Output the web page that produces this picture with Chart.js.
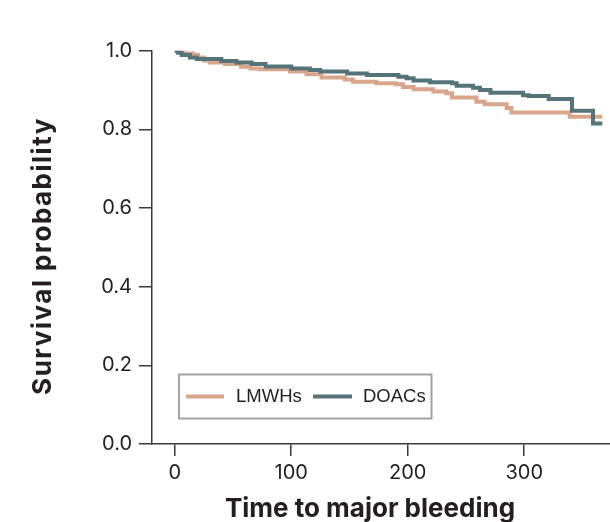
<!DOCTYPE html>
<html>
<head>
<meta charset="utf-8">
<script src="https://cdn.jsdelivr.net/npm/chart.js@4.4.1/dist/chart.umd.min.js"></script>
<style>
  html, body { margin: 0; padding: 0; background: #fff; }
  #wrap { width: 610px; height: 522px; }
</style>
</head>
<body>
<div id="wrap"><canvas id="km" width="610" height="522"></canvas></div>
<script>
// Kaplan-Meier steps (time in days, survival probability)
const seriesNames = ['LMWHs', 'DOACs']
const lmwhTime = [0, 5, 8, 16, 20, 25, 30, 43, 57, 65, 73, 99, 113, 126, 146, 153, 173, 190, 196, 205, 222, 233, 238, 259, 266, 285, 289, 339, 367]
const lmwhSurv = [1.0, 0.996, 0.993, 0.989, 0.983, 0.975, 0.970, 0.966, 0.959, 0.955, 0.953, 0.947, 0.940, 0.932, 0.927, 0.921, 0.917, 0.915, 0.908, 0.902, 0.896, 0.892, 0.881, 0.870, 0.864, 0.854, 0.843, 0.832, 0.832]
const doacTime = [0, 3, 6, 13, 19, 40, 53, 66, 78, 100, 116, 125, 148, 165, 192, 199, 205, 219, 238, 242, 256, 262, 271, 299, 304, 321, 341, 359, 367]
const doacSurv = [1.0, 0.995, 0.989, 0.983, 0.979, 0.974, 0.970, 0.966, 0.960, 0.955, 0.951, 0.947, 0.942, 0.938, 0.934, 0.930, 0.924, 0.920, 0.917, 0.911, 0.906, 0.900, 0.893, 0.887, 0.885, 0.877, 0.847, 0.815, 0.815]
const xTicks = [0, 100, 200, 300]
const yTicks = [0.0, 0.2, 0.4, 0.6, 0.8, 1.0]
const xTitle = 'Time to major bleeding'
const yTitle = 'Survival probability'

const lmwhColor = '#d9a68b'
const doacColor = '#557479'
const inkColor = '#231f20'

function toPoints(times, surv){
    var pts = []
    for(var i=0;i<times.length;i++){
        pts.push({x: times[i], y: surv[i]})
    }
    return pts
}

// titles and boxed legend drawn on top of the chart
const extras = {
    id: 'extras',
    afterDraw(chart){
        const ctx = chart.ctx
        ctx.save()
        ctx.fillStyle = inkColor
        ctx.font = 'bold 26px Inter'
        ctx.textAlign = 'center'
        ctx.textBaseline = 'alphabetic'
        ctx.fillText(xTitle, 370, 517)

        ctx.translate(51, 256)
        ctx.rotate(-Math.PI/2)
        ctx.letterSpacing = '1.5px'
        ctx.fillText(yTitle, 0, 0)
        ctx.restore()

        // legend
        ctx.save()
        ctx.strokeStyle = '#a3a3a3'
        ctx.lineWidth = 2
        ctx.strokeRect(179, 374.5, 252.5, 44)
        const ds = chart.data.datasets
        const items = [
            {label: ds[0].label, color: ds[0].borderColor, x0: 186, x1: 224, tx: 236},
            {label: ds[1].label, color: ds[1].borderColor, x0: 313, x1: 352, tx: 363}
        ]
        ctx.font = '18.5px "Liberation Sans", Arial'
        ctx.textAlign = 'left'
        ctx.textBaseline = 'middle'
        items.forEach(it=>{
            ctx.strokeStyle = it.color
            ctx.lineWidth = 4
            ctx.beginPath()
            ctx.moveTo(it.x0, 396.5)
            ctx.lineTo(it.x1, 396.5)
            ctx.stroke()
            ctx.fillStyle = inkColor
            ctx.fillText(it.label, it.tx, 397)
        })
        ctx.restore()
    }
}

const ctx = document.getElementById('km').getContext('2d')
const kmChart = new Chart(ctx, {
    type: 'line',
    data: {
        datasets: [{
            label: seriesNames[0],
            data: toPoints(lmwhTime, lmwhSurv),
            borderColor: lmwhColor,
            borderWidth: 4,
            stepped: 'before',
            pointRadius: 0,
            fill: false,
            order: 1
        },{
            label: seriesNames[1],
            data: toPoints(doacTime, doacSurv),
            borderColor: doacColor,
            borderWidth: 4,
            stepped: 'before',
            pointRadius: 0,
            fill: false,
            order: 0
        }]
    },
    options: {
        responsive: false,
        animation: false,
        layout: { padding: { top: 50.7, left: 0, right: 0, bottom: 0 } },
        plugins: {
            legend: { display: false },
            tooltip: { enabled: false }
        },
        scales: {
            x: {
                type: 'linear',
                min: -19.5,
                max: 373.6,
                afterBuildTicks: (scale)=>{ scale.ticks = xTicks.map(v=>({value: v})) },
                afterFit: (scale)=>{ scale.height = 78 },
                grid: { drawOnChartArea: false, drawTicks: true, tickLength: 12, color: '#3a3a3a', lineWidth: 1.5 },
                border: { display: true, color: '#3a3a3a', width: 1.5 },
                ticks: {
                    color: inkColor,
                    font: { family: 'Inter', size: 20 },
                    padding: 5,
                    maxRotation: 0,
                    callback: (v)=>String(v)
                }
            },
            y: {
                type: 'linear',
                min: 0,
                max: 1,
                afterBuildTicks: (scale)=>{ scale.ticks = yTicks.map(v=>({value: v})) },
                afterFit: (scale)=>{ scale.width = 152 },
                grid: { drawOnChartArea: false, drawTicks: true, tickLength: 13, color: '#3a3a3a', lineWidth: 1.5 },
                border: { display: true, color: '#3a3a3a', width: 1.5 },
                ticks: {
                    color: inkColor,
                    font: { family: 'Inter', size: 20 },
                    padding: 7,
                    callback: (v)=>Number(v).toFixed(1)
                }
            }
        }
    },
    plugins: [extras]
})
</script>
</body>
</html>
